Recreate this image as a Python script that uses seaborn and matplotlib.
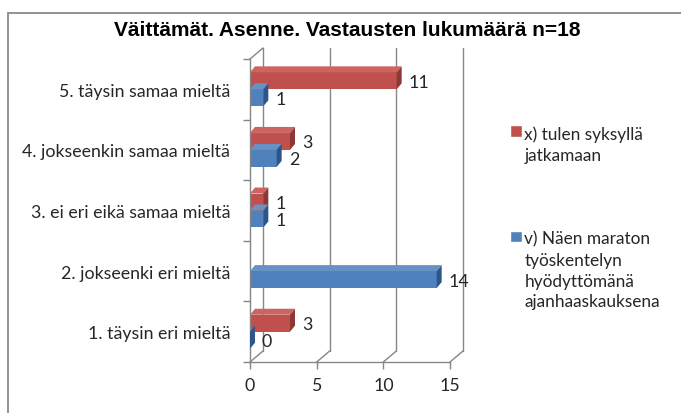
import numpy as np
import pandas as pd
import seaborn as sns
import matplotlib.pyplot as plt
from matplotlib.patches import Polygon, Rectangle
from matplotlib.lines import Line2D

# ---- data ----
categories = ["5. täysin samaa mieltä", "4. jokseenkin samaa mieltä",
              "3. ei eri eikä samaa mieltä", "2. jokseenki eri mieltä",
              "1. täysin eri mieltä"]
series_x = [11, 3, 1, np.nan, 3]
series_v = [1, 2, 1, 14, 0]
series_names = ["x) tulen syksyllä\njatkamaan",
                "v) Näen maraton\ntyöskentelyn\nhyödyttömänä\najanhaaskauksena"]
xticks = [0, 5, 10, 15]
title = "Väittämät. Asenne. Vastausten lukumäärä n=18"

RED = "#C0504D"
BLUE = "#4F81BD"
RED_SIDE = "#8C3836"
BLUE_SIDE = "#2E5587"
RED_TOP = "#CC6461"
BLUE_TOP = "#6892C6"
GRID = "#868686"
TXT = "#262626"

df = pd.DataFrame({
    "cat": categories * 2,
    "value": series_x + series_v,
    "series": [series_names[0]] * len(categories) + [series_names[1]] * len(categories),
})

sns.set_theme(style="white")
plt.rcParams["font.family"] = ["Lato", "DejaVu Sans"]

W, H = 681, 414
fig = plt.figure(figsize=(W / 100, H / 100), dpi=100)
# outer chart frame
fig.patches.append(Rectangle((8 / W, -0.1), 1.2, 1 - 14 / H + 0.1, transform=fig.transFigure,
                             fill=False, edgecolor="#8a8a8a", lw=1.3))

x0, x1, ytop, ybot = 250, 450, 60, 363
ax = fig.add_axes([x0 / W, 1 - ybot / H, (x1 - x0) / W, (ybot - ytop) / H])

sns.barplot(data=df, y="cat", x="value", hue="series", order=categories,
            hue_order=series_names, palette=[RED, BLUE], saturation=1,
            width=0.56, orient="h", ax=ax, legend=False, linewidth=0)

ax.set_xlim(0, 15)
ax.set_ylim(4.5, -0.5)

# depth offsets (pixels -> data)
pxx = 15 / (x1 - x0)
pxy = 5 / (ybot - ytop)
DX, DY = 13 * pxx, 11 * pxy          # wall depth
bdx, bdy = 5 * pxx, 6 * pxy          # bar depth

# back wall grid lines + floor diagonals
for t in xticks:
    ax.add_line(Line2D([t + DX, t + DX], [4.5 - DY, -0.5 - DY], color=GRID, lw=1, clip_on=False, zorder=0.5))
    ax.add_line(Line2D([t, t + DX], [4.5, 4.5 - DY], color=GRID, lw=1, clip_on=False, zorder=0.5))
ax.add_line(Line2D([0, DX], [-0.5, -0.5 - DY], color=GRID, lw=1, clip_on=False, zorder=0.5))

# 3D faces on bars + value labels
for cont, side, top in zip(ax.containers, [RED_SIDE, BLUE_SIDE], [RED_TOP, BLUE_TOP]):
    for p in cont.patches:
        if p is None:
            continue
        w = p.get_width()
        if not np.isfinite(w):
            continue
        bx, by, bh = p.get_x(), p.get_y(), p.get_height()
        ax.add_patch(Polygon([[bx, by], [bx + w, by], [bx + w + bdx, by - bdy], [bx + bdx, by - bdy]],
                             closed=True, facecolor=top, edgecolor="none", zorder=3, clip_on=False))
        ax.add_patch(Polygon([[bx + w, by], [bx + w + bdx, by - bdy], [bx + w + bdx, by + bh - bdy], [bx + w, by + bh]],
                             closed=True, facecolor=side, edgecolor="none", zorder=3, clip_on=False))
        ax.annotate(f"{w:g}", (bx + w, by + bh / 2), xytext=(12, -1), textcoords="offset pixels",
                    ha="left", va="center", fontsize=12.8, color=TXT, annotation_clip=False)

# axes styling
for s in ["top", "right"]:
    ax.spines[s].set_visible(False)
for s in ["left", "bottom"]:
    ax.spines[s].set_color(GRID)
    ax.spines[s].set_linewidth(1)
ax.set_xticks(xticks)
ax.set_xticklabels([str(t) for t in xticks])
ax.set_yticks(np.arange(-0.5, len(categories)), minor=True)
ax.tick_params(axis="y", which="major", length=0, pad=14.4, labelsize=12.8, labelcolor=TXT)
ax.tick_params(axis="y", which="minor", length=5, width=1, color=GRID, left=True)
ax.tick_params(axis="x", length=5, width=1, color=GRID, pad=6, labelsize=12.8, labelcolor=TXT, bottom=True)
ax.set_xlabel("")
ax.set_ylabel("")
ax.grid(False)
ax.set_facecolor("none")

fig.text(347 / W, 1 - 30 / H, title, ha="center", va="center", fontsize=15,
         fontweight="bold", family=["Liberation Sans", "DejaVu Sans"], color="black")

# legend
handles = [Rectangle((0, 0), 1, 1, facecolor=RED), Rectangle((0, 0), 1, 1, facecolor=BLUE)]
leg = fig.legend(handles, series_names, loc="upper left", bbox_to_anchor=(510 / W, 1 - 126 / H),
                 frameon=False, fontsize=12.4, handlelength=0.68, handleheight=0.68, handletextpad=0.15,
                 labelspacing=3.95, borderaxespad=0, borderpad=0, labelcolor=TXT)
for t in leg.get_texts():
    t.set_linespacing(1.38)
for col in leg._legend_handle_box.get_children():
    for hp in col.get_children():
        hp.align = "top"

fig.savefig("out.png", dpi=100)
